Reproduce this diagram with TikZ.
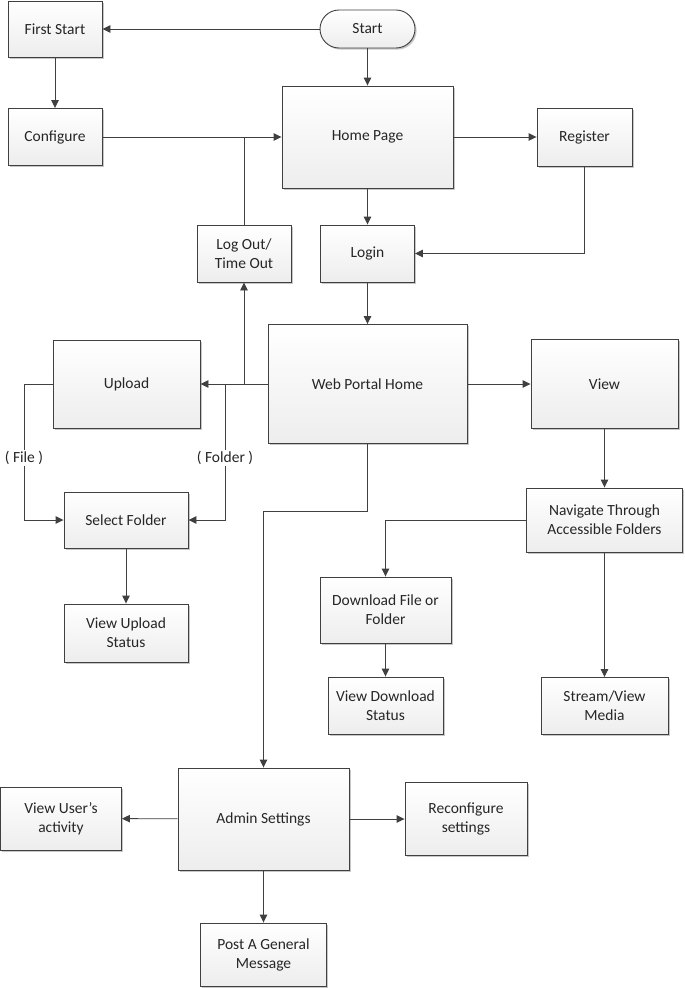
\documentclass[tikz,border=0pt]{standalone}
\usepackage{fontspec}
\setmainfont{Carlito}
\usetikzlibrary{arrows.meta,shadows}
\definecolor{edge}{HTML}{404040}
\definecolor{ink}{HTML}{262626}
\begin{document}
\begin{tikzpicture}[x=1pt,y=-1pt,
  box/.style={rectangle, draw=edge, line width=0.9pt, top color=white, bottom color=black!7,
    general shadow={fill=black!22, shadow xshift=1.6pt, shadow yshift=-1.6pt},
    inner sep=0pt, align=center, text=ink,
    font=\fontsize{15.5}{19}\selectfont},
  term/.style={box, rounded corners=19pt},
  link/.style={draw=edge, line width=0.9pt},
  arr/.style={link, -{Triangle[length=8pt,width=7.5pt]}},
  lbl/.style={fill=white, inner sep=1pt, text=ink, font=\fontsize{15.5}{19}\selectfont}]
\useasboundingbox (0,0) rectangle (685,988);

% boxes
\node[term, minimum width=95pt, minimum height=38pt] (start) at (367.5,29) {Start};
\node[box, minimum width=94pt, minimum height=56pt] (first) at (55,29) {First Start};
\node[box, minimum width=94pt, minimum height=57pt] (config) at (55,137) {Configure};
\node[box, minimum width=171pt, minimum height=102pt] (home) at (367.5,137) {Home Page};
\node[box, minimum width=95pt, minimum height=58pt] (reg) at (584.5,137) {Register};
\node[box, minimum width=94pt, minimum height=57pt] (login) at (367.5,253.5) {Login};
\node[box, minimum width=94pt, minimum height=57pt] (logout) at (244,253.5) {Log Out/\\Time Out};
\node[box, minimum width=199pt, minimum height=119pt] (web) at (367.5,384) {Web Portal Home};
\node[box, minimum width=147pt, minimum height=88pt] (upload) at (126.5,384) {Upload};
\node[box, minimum width=147pt, minimum height=89pt] (view) at (604.5,384) {View};
\node[box, minimum width=124pt, minimum height=56pt] (sel) at (126,520) {Select Folder};
\node[box, minimum width=124pt, minimum height=58pt] (vus) at (126,633) {View Upload\\Status};
\node[box, minimum width=156pt, minimum height=64pt] (nav) at (604.5,520) {Navigate Through\\Accessible Folders};
\node[box, minimum width=131pt, minimum height=66pt] (dl) at (385.5,610) {Download File or\\Folder};
\node[box, minimum width=115pt, minimum height=57pt] (vds) at (385.5,705.5) {View Download\\Status};
\node[box, minimum width=127pt, minimum height=57pt] (stream) at (604.5,706) {Stream/View\\Media};
\node[box, minimum width=171pt, minimum height=102pt] (admin) at (263.5,819) {Admin Settings};
\node[box, minimum width=121pt, minimum height=63pt] (vua) at (61,818.5) {View User’s\\activity};
\node[box, minimum width=122pt, minimum height=73pt] (reconf) at (466,819) {Reconfigure\\settings};
\node[box, minimum width=126pt, minimum height=63pt] (post) at (263.5,954.5) {Post A General\\Message};

% junction points on the connectors
\coordinate (folderjoin) at (225,384);
\coordinate (filebend) at (24,384);
\coordinate (adminbend) at (367.5,511);

% connectors
\draw[arr] (start) -- (first);
\draw[arr] (first) -- (config);
\draw[arr] (config) -- (home);
\draw[link] (logout.north) -- (logout.north |- home.west);
\draw[arr] (start) -- (home);
\draw[arr] (home) -- (reg);
\draw[arr] (home) -- (login);
\draw[arr] (reg.south) |- (login.east);
\draw[arr] (login) -- (web);
\draw[arr] (web) -- (upload);
\draw[arr] (logout.south |- web.west) -- (logout.south);
\draw[arr] (folderjoin) |- (sel.east);
\draw[arr] (upload.west) -- (filebend) |- (sel.west);
\draw[arr] (sel) -- (vus);
\draw[arr] (web) -- (view);
\draw[arr] (view) -- (nav);
\draw[arr] (nav.west) -| (dl.north);
\draw[arr] (nav) -- (stream);
\draw[arr] (dl) -- (vds);
\draw[arr] (web.south) -- (adminbend) -| (admin.north);
\draw[arr] (admin) -- (vua);
\draw[arr] (admin) -- (reconf);
\draw[arr] (admin) -- (post);

% branch labels
\node[lbl] (filelbl) at (24,458) {( File )};
\node[lbl] (folderlbl) at (225,458) {( Folder )};
\end{tikzpicture}
\end{document}
